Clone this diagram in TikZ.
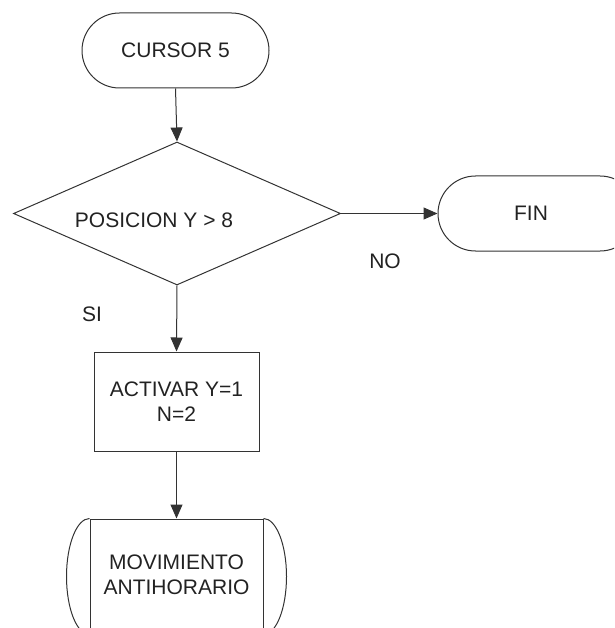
\documentclass[tikz,border=0pt]{standalone}
\usepackage{fontspec}
\setmainfont{Liberation Sans}
\usetikzlibrary{shapes.misc,shapes.geometric,arrows.meta}

\definecolor{ink}{HTML}{222222}
\definecolor{edge}{HTML}{333333}

\tikzset{
  base/.style={font=\fontsize{21pt}{25pt}\selectfont, text=ink},
  shapeline/.style={draw=edge, line width=1pt},
  term/.style={base, shapeline, rounded rectangle, minimum height=75pt, inner sep=0pt},
  decision/.style={shapeline, diamond, minimum width=327pt, minimum height=143pt, inner sep=0pt},
  procbox/.style={base, shapeline, rectangle, align=center, inner sep=0pt},
  plain/.style={base, inner sep=0pt, align=center},
  flow/.style={draw=edge, line width=1pt, -{Triangle[length=14pt,width=12pt]}}
}

\begin{document}
\begin{tikzpicture}[x=1pt,y=-1pt]
\useasboundingbox (0,0) rectangle (614,628);
\clip (0,0) rectangle (614,628);

% start terminator
\node[term, minimum width=187pt] (cursor) at (175.5,50.5) {CURSOR 5};

% decision
\node[decision] (dec) at (177,213.5) {};
\node[plain] (dectext) at (154,220) {POSICION Y > 8};

% end terminator
\node[term, minimum width=199.5pt] (fin) at (537.75,213.5) {};
\node[plain] (fintext) at (531,213) {FIN};

% process
\node[procbox, minimum width=165pt, minimum height=99pt] (act) at (176.5,401.5) {ACTIVAR Y=1\\N=2};

% bottom action with curved sides
\node[procbox, minimum width=173pt, minimum height=116pt] (mov) at (176.5,577) {};
\node[plain] (movtext) at (176.5,575) {MOVIMIENTO\\ANTIHORARIO};
\draw[shapeline] (mov.north west) arc[start angle=270, end angle=90, x radius=23, y radius=58];
\draw[shapeline] (mov.north east) arc[start angle=-90, end angle=90, x radius=23, y radius=58];

% branch labels
\node[plain] (nolbl) at (385,261) {NO};
\node[plain] (silbl) at (92,314) {SI};

% connectors
\draw[flow] (cursor.south) -- (dec.north);
\draw[flow] (dec.east) -- (fin.west);
\draw[flow] (dec.south) -- (act.north);
\draw[flow] (act.south) -- (mov.north);
\end{tikzpicture}
\end{document}
